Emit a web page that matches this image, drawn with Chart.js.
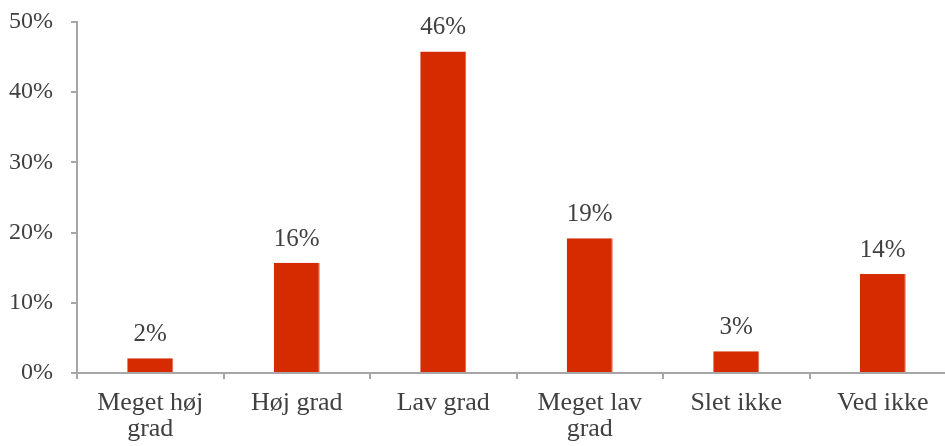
<!DOCTYPE html>
<html>
<head>
<meta charset="utf-8">
<script src="https://cdn.jsdelivr.net/npm/chart.js@4"></script>
<style>
html,body{margin:0;padding:0;background:#fff;overflow:hidden;}
#wrap{width:945px;height:446px;overflow:hidden;position:relative;}
#box{width:960px;height:446px;position:absolute;left:0;top:0;}
</style>
</head>
<body>
<div id="wrap"><div id="box"><canvas id="c"></canvas></div></div>
<script>
const categories = [["Meget høj","grad"], "Høj grad", "Lav grad", ["Meget lav","grad"], "Slet ikke", "Ved ikke"];
const values = [2.1, 15.7, 45.8, 19.2, 3.1, 14.1];
const valueLabels = ["2%", "16%", "46%", "19%", "3%", "14%"];
const yTicks = [0, 10, 20, 30, 40, 50];

const FONT = "'Liberation Serif', serif";
const TXT = "#404040";
const AX = "#a6a6a6";

const labelPlugin = {
  id: 'valLabels',
  afterDatasetsDraw(chart) {
    const ctx = chart.ctx;
    const meta = chart.getDatasetMeta(0);
    ctx.save();
    ctx.font = "25px " + FONT;
    ctx.fillStyle = TXT;
    ctx.textAlign = "center";
    ctx.textBaseline = "alphabetic";
    meta.data.forEach((bar, i) => {
      ctx.fillText(valueLabels[i], bar.x, bar.y - 17);
    });
    ctx.restore();
  }
};

new Chart(document.getElementById('c'), {
  type: 'bar',
  data: {
    labels: categories,
    datasets: [{
      data: values,
      backgroundColor: '#D62B00',
      borderColor: '#E8654A',
      borderWidth: {right: 1, left: 0, top: 0, bottom: 0},
      categoryPercentage: 1,
      barPercentage: 0.314
    }]
  },
  options: {
    responsive: true,
    maintainAspectRatio: false,
    animation: false,
    layout: {padding: {top: 22, right: 4, left: 0, bottom: 0}},
    plugins: {legend: {display: false}, tooltip: {enabled: false}},
    scales: {
      x: {
        grid: {display: true, drawOnChartArea: false, drawTicks: true, tickLength: 6, color: AX, lineWidth: 2, offset: true},
        border: {display: true, color: AX, width: 2},
        ticks: {font: {family: FONT, size: 26, lineHeight: 1.0}, color: TXT, padding: 11, maxRotation: 0, autoSkip: false},
        afterFit(s) { s.height = 73; s.paddingLeft = 0; s.paddingRight = 0; }
      },
      y: {
        min: 0, max: 50,
        afterBuildTicks(s) { s.ticks = yTicks.map(v => ({value: v})); },
        grid: {display: true, drawOnChartArea: false, drawTicks: true, tickLength: 6, color: AX, lineWidth: 2},
        border: {display: true, color: AX, width: 2},
        ticks: {font: {family: FONT, size: 24}, color: TXT, padding: 18, callback: v => v + "%"},
        afterFit(s) { s.width = 77; s.paddingTop = 0; s.paddingBottom = 0; }
      }
    }
  },
  plugins: [labelPlugin]
});
</script>
</body>
</html>
